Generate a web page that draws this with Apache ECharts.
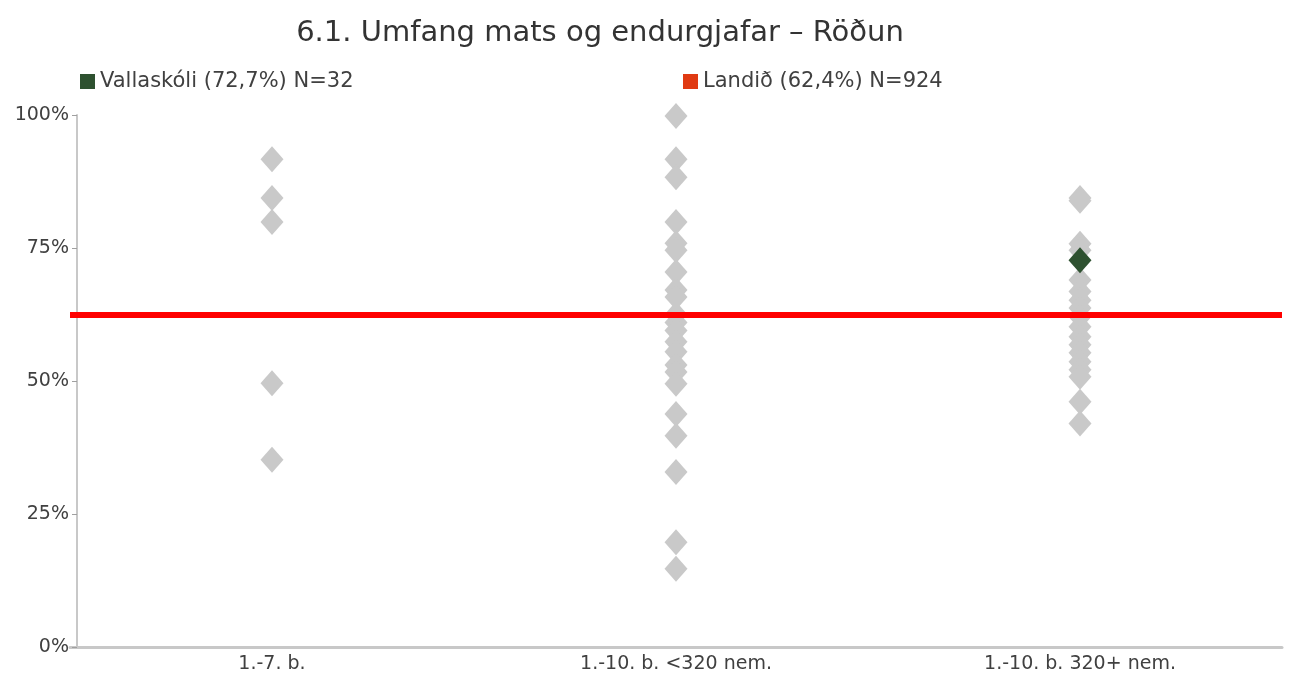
<!DOCTYPE html>
<html>
<head>
<meta charset="utf-8">
<script src="https://cdn.jsdelivr.net/npm/echarts@6/dist/echarts.min.js"></script>
<style>
html,body{margin:0;padding:0;background:#fff;}
#chart{width:1295px;height:675px;}
</style>
</head>
<body>
<div id="chart"></div>
<script>
const titleText = '6.1. Umfang mats og endurgjafar – Röðun';
const categories = ['1.-7. b.', '1.-10. b. <320 nem.', '1.-10. b. 320+ nem.'];
const yTicks = [0, 25, 50, 75, 100];
const schools1 = [91.7, 84.4, 79.9, 49.6, 35.2];
const schools2 = [99.8, 91.7, 88.3, 79.9, 75.9, 74.6, 70.5, 67.1, 65.8, 62.5, 61.0, 59.5, 57.4, 55.5, 53.0, 51.7, 49.5, 43.8, 39.7, 32.9, 19.7, 14.7];
const schools3 = [84.4, 83.9, 75.8, 74.6, 69.0, 66.8, 65.2, 63.7, 62.1, 60.2, 58.3, 56.8, 55.3, 53.6, 52.1, 50.8, 46.1, 42.0];
const schoolName = 'Vallaskóli (72,7%) N=32';
const schoolCategory = '1.-10. b. 320+ nem.';
const schoolValue = 72.7;
const countryName = 'Landið (62,4%) N=924';
const countryValue = 62.4;

const others = [];
[schools1, schools2, schools3].forEach((arr, i) => {
  arr.forEach(v => others.push([categories[i], v]));
});

const chart = echarts.init(document.getElementById('chart'));
const font = '"DejaVu Sans", sans-serif';
chart.setOption({
  animation: false,
  backgroundColor: '#ffffff',
  title: {
    text: titleText,
    left: 595,
    textAlign: 'center',
    top: 14,
    textStyle: {fontFamily: font, fontSize: 29, fontWeight: 'normal', color: '#333333'}
  },
  legend: [
    {data: [schoolName], left: 75, top: 66, icon: 'rect', itemWidth: 15, itemHeight: 15, itemGap: 6,
     textStyle: {fontFamily: font, fontSize: 21, color: '#404040'}, selectedMode: false},
    {data: [countryName], left: 678, top: 66, icon: 'rect', itemWidth: 15, itemHeight: 15, itemGap: 6,
     textStyle: {fontFamily: font, fontSize: 21, color: '#404040'}, selectedMode: false}
  ],
  grid: {left: 70, right: 13, top: 115, bottom: 28, containLabel: false},
  xAxis: {
    type: 'category',
    data: categories,
    axisLine: {show: true, lineStyle: {color: '#C8C8C8', width: 3}},
    axisTick: {show: false},
    axisLabel: {fontFamily: font, fontSize: 19, color: '#404040', margin: 8},
    splitLine: {show: false}
  },
  yAxis: {
    type: 'value',
    min: yTicks[0],
    max: yTicks[yTicks.length - 1],
    interval: 25,
    offset: -7,
    axisLine: {show: true, lineStyle: {color: '#C8C8C8', width: 2}},
    axisTick: {show: true, length: 5, lineStyle: {color: '#A0A0A0'}},
    axisLabel: {fontFamily: font, fontSize: 19, color: '#404040', margin: 8, formatter: '{value}%'},
    splitLine: {show: false}
  },
  series: [
    {
      name: 'others',
      type: 'scatter',
      symbol: 'diamond',
      symbolSize: [23, 26],
      itemStyle: {color: '#C9C9C9', opacity: 1},
      data: others,
      z: 2
    },
    {
      name: countryName,
      type: 'scatter',
      data: [],
      itemStyle: {color: '#E03A12', opacity: 1},
      markLine: {
        silent: true,
        symbol: ['none', 'none'],
        label: {show: false},
        lineStyle: {color: '#FF0000', width: 6, type: 'solid', opacity: 1},
        data: [{yAxis: countryValue}]
      },
      z: 3
    },
    {
      name: schoolName,
      type: 'scatter',
      symbol: 'diamond',
      symbolSize: [23, 26],
      itemStyle: {color: '#2E5130', opacity: 1},
      data: [[schoolCategory, schoolValue]],
      z: 5
    }
  ]
});
</script>
</body>
</html>
